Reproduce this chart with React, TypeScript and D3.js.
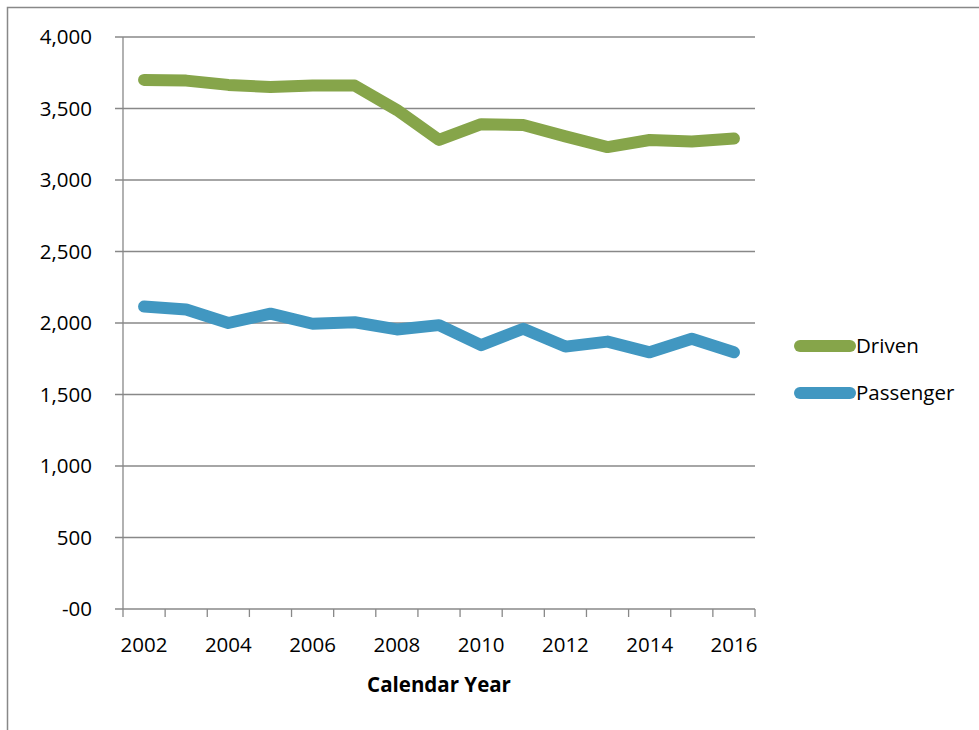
import React from "react";
import * as d3 from "d3";

const years = ["2002","2003","2004","2005","2006","2007","2008","2009","2010","2011","2012","2013","2014","2015","2016"];
const driven = [3700,3695,3665,3650,3660,3660,3490,3280,3390,3385,3305,3230,3280,3270,3290];
const passenger = [2115,2095,2000,2065,1995,2005,1955,1985,1845,1960,1835,1870,1795,1890,1795];
const yTicks = [0,500,1000,1500,2000,2500,3000,3500,4000];
const yLabels = ["-00","500","1,000","1,500","2,000","2,500","3,000","3,500","4,000"];
const series = [
  { name: "Driven", values: driven, color: "#86A54A" },
  { name: "Passenger", values: passenger, color: "#4197C1" },
];

export default function App() {
  const W = 979, H = 730;
  const L = 123, R = 755, T = 37, B = 609;
  const x = d3.scaleBand<string>().domain(years).range([L, R]);
  const y = d3.scaleLinear().domain([0, 4000]).range([B, T]);
  const line = d3.line<number>().x((_, i) => x(years[i])! + x.bandwidth() / 2).y(d => y(d));
  const font = "'Open Sans', sans-serif";
  const fs = 20.5;
  return (
    <svg width={W} height={H} style={{ position: "absolute", left: 0, top: 0 }} fontFamily={font}>
      <rect x={0} y={0} width={W} height={H} fill="#fff" />
      <path d={`M7.5,${H} V7.5 H${W}`} fill="none" stroke="#888" strokeWidth={1.5} />
      {yTicks.map((t, i) => (
        <g key={t}>
          <line x1={L - 8} x2={R} y1={y(t)} y2={y(t)} stroke="#888" strokeWidth={1.3} />
          <text x={L - 31} y={y(t)} dy="0.35em" textAnchor="end" fontSize={fs} fill="#000">{yLabels[i]}</text>
        </g>
      ))}
      <line x1={L} x2={L} y1={T} y2={B} stroke="#888" strokeWidth={1.3} />
      {years.concat([""]).map((_, i) => {
        const xx = L + i * x.step();
        return <line key={i} x1={xx} x2={xx} y1={B} y2={B + 8} stroke="#888" strokeWidth={1.3} />;
      })}
      {years.map((yr, i) => i % 2 === 0 ? (
        <text key={yr} x={x(yr)! + x.bandwidth() / 2} y={B + 43} textAnchor="middle" fontSize={fs}>{yr}</text>
      ) : null)}
      <text x={(L + R) / 2} y={692} textAnchor="middle" fontSize={fs} fontWeight="bold">Calendar Year</text>
      {series.map((s, k) => (
        <g key={s.name}>
          <path d={line(s.values)!} fill="none" stroke={s.color} strokeWidth={12} strokeLinecap="round" strokeLinejoin="round" />
          <line x1={800} x2={850} y1={346 + k * 47} y2={346 + k * 47} stroke={s.color} strokeWidth={12} strokeLinecap="round" />
          <text x={856} y={346 + k * 47} dy="0.35em" fontSize={fs}>{s.name}</text>
        </g>
      ))}
    </svg>
  );
}
